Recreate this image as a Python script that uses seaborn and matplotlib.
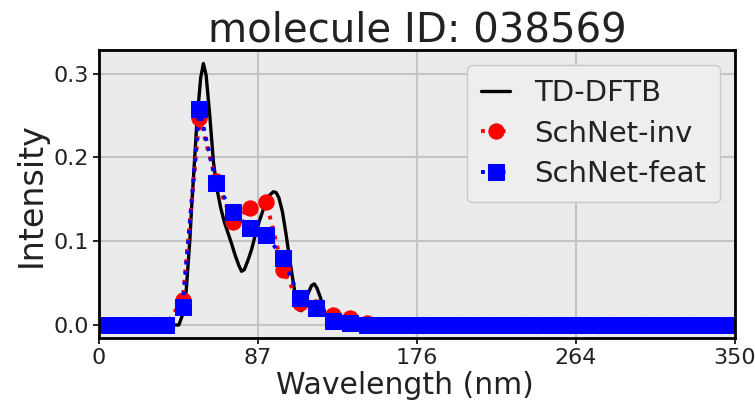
import numpy as np
import pandas as pd
import matplotlib
matplotlib.use("Agg")
import matplotlib.pyplot as plt
import seaborn as sns

# ---- data ----
ref_x = [0, 40, 44, 46, 48, 50, 51, 52, 54, 56, 57.5, 59, 61, 63, 65, 67, 69, 71, 73, 75, 77,
         78.5, 80, 82, 84, 86, 88, 90, 92, 94, 96, 97.5, 99, 101, 103, 105, 107, 108.5, 110,
         111.5, 113, 115, 117, 118.5, 120, 122, 124, 126, 128, 131, 350]
ref_y = [0.0, 0.0, 0.0, 0.012, 0.04, 0.10, 0.14, 0.175, 0.245, 0.295, 0.312, 0.298, 0.25, 0.195,
         0.162, 0.14, 0.123, 0.11, 0.097, 0.083, 0.071, 0.064, 0.066, 0.077, 0.090, 0.107, 0.122,
         0.135, 0.147, 0.155, 0.159, 0.158, 0.152, 0.135, 0.108, 0.078, 0.050, 0.030, 0.018,
         0.017, 0.024, 0.037, 0.047, 0.049, 0.044, 0.032, 0.017, 0.007, 0.002, 0.0, 0.0]

pred_x = [0.0, 9.2, 18.4, 27.6, 36.8, 46.1, 55.3, 64.5, 73.7, 82.9, 92.1, 101.3, 110.5, 119.7,
          128.9, 138.2, 147.4, 156.6, 165.8, 175.0, 184.2, 193.4, 202.6, 211.8, 221.1, 230.3,
          239.5, 248.7, 257.9, 267.1, 276.3, 285.5, 294.7, 303.9, 313.2, 322.4, 331.6, 340.8, 350.0]
inv_y = [0, 0, 0, 0, 0, 0.03, 0.247, 0.172, 0.123, 0.140, 0.147, 0.066, 0.026, 0.022, 0.012,
         0.008, 0.002, 0, 0, 0, 0, 0, 0, 0, 0, 0, 0, 0, 0, 0, 0, 0, 0, 0, 0, 0, 0, 0, 0]
feat_y = [0, 0, 0, 0, 0, 0.022, 0.258, 0.169, 0.135, 0.116, 0.107, 0.080, 0.032, 0.020, 0.005,
          0.002, 0, 0, 0, 0, 0, 0, 0, 0, 0, 0, 0, 0, 0, 0, 0, 0, 0, 0, 0, 0, 0, 0, 0]

tick_pos = [0, 87.5, 175, 262.5, 350]
tick_labels = ["0", "87", "176", "264", "350"]
y_ticks = [0.0, 0.1, 0.2, 0.3]

title = "molecule ID: 038569"

sns.set_style("darkgrid", {"axes.facecolor": "#ebebeb", "grid.color": "#c4c4c4",
                           "axes.edgecolor": "black"})
plt.rcParams["font.family"] = ["DejaVu Sans"]

fig = plt.figure(figsize=(7.55, 4.01), dpi=100)
ax = fig.add_axes([0.131, 0.157, 0.8425, 0.718])

df_ref = pd.DataFrame({"x": ref_x, "y": ref_y})
df_inv = pd.DataFrame({"x": pred_x, "y": inv_y})
df_feat = pd.DataFrame({"x": pred_x, "y": feat_y})

sns.lineplot(data=df_ref, x="x", y="y", ax=ax, color="black", lw=2.4, label="TD-DFTB")
sns.lineplot(data=df_inv, x="x", y="y", ax=ax, color="red", lw=2.8, ls=":", marker="o",
             ms=11, mec="red", label="SchNet-inv")
sns.lineplot(data=df_feat, x="x", y="y", ax=ax, color="blue", lw=2.8, ls=":", marker="s",
             ms=11, mec="blue", label="SchNet-feat")

ax.set_xlim(0, 350)
ax.set_ylim(-0.0156, 0.328)
ax.set_xticks(tick_pos)
ax.set_xticklabels(tick_labels)
ax.set_yticks(y_ticks)
ax.set_yticklabels([f"{v:.1f}" for v in y_ticks])
ax.tick_params(labelsize=16, length=4, width=1.2, color="black", labelcolor="#222222",
               bottom=True, left=True, pad=3)
ax.grid(True, color="#c4c4c4", lw=1.5)
for s in ax.spines.values():
    s.set_linewidth(2.0)
    s.set_color("black")

ax.set_xlabel("Wavelength (nm)", fontsize=21.5, color="#222222")
ax.xaxis.set_label_coords(0.481, -0.115)
ax.xaxis.label.set_va("top")
ax.set_ylabel("Intensity", fontsize=24, labelpad=4, color="#222222")
ax.set_title(title, fontsize=29, pad=6, color="#222222")

leg = ax.legend(loc="upper right", fontsize=21, frameon=True, facecolor="#eeeeee",
                edgecolor="#c8c8c8", framealpha=1.0, borderaxespad=0.5, handlelength=1.0,
                handletextpad=0.8, labelspacing=0.42, borderpad=0.5)
for t in leg.get_texts():
    t.set_color("#222222")

fig.savefig("out.png", dpi=100)
